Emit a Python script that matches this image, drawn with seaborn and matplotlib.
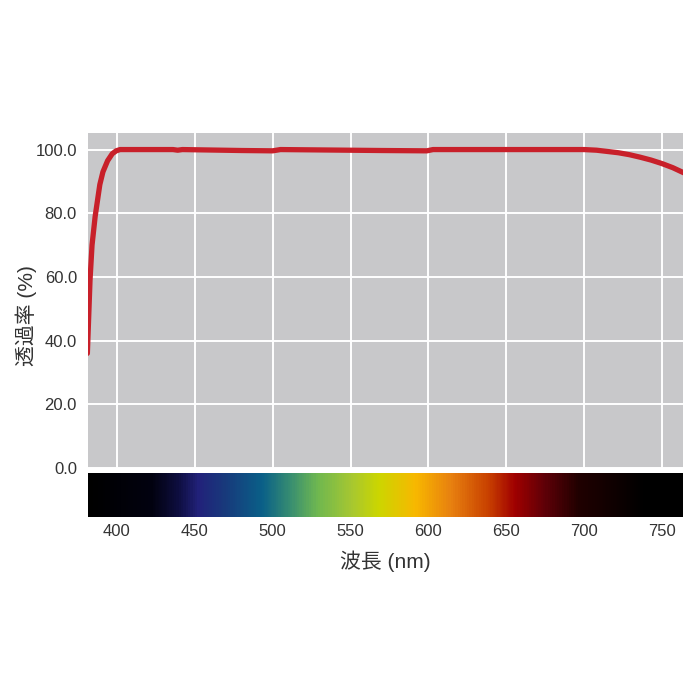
import numpy as np
import pandas as pd
import matplotlib
matplotlib.use("Agg")
import matplotlib.pyplot as plt
import seaborn as sns
from matplotlib.colors import LinearSegmentedColormap

# 透過率カーブ (読み取り値)
wavelength = [381, 382.7, 384, 386, 389, 391, 394, 397, 399.5, 402, 436, 439, 442,
              480, 500, 505, 570, 599, 603, 700, 708, 715, 722, 729, 736, 743,
              750, 757, 764]
transmittance = [36, 59, 70, 79, 89, 93, 96.5, 98.7, 99.6, 100, 100, 99.8, 100,
                 99.7, 99.6, 100, 99.7, 99.6, 100, 100, 99.8, 99.4, 99.0, 98.4,
                 97.6, 96.7, 95.6, 94.3, 92.7]

# スペクトル帯の色
spec_nm = [381, 422, 439, 452, 469, 493, 512, 529, 551, 568, 592, 615, 639,
           656, 675, 697, 718, 740, 764]
spec_colors = ["#000000", "#020210", "#0e0e40", "#22227a", "#183a7c", "#0a6088",
               "#3a9070", "#70b850", "#a8c830", "#ccd600", "#f8b800", "#e88010",
               "#c84000", "#a00000", "#600008", "#200000", "#100000", "#000000",
               "#000000"]

x_ticks = [400, 450, 500, 550, 600, 650, 700, 750]
y_ticks = [0, 20, 40, 60, 80, 100]

sns.set_theme(style="darkgrid", rc={
    "axes.facecolor": "#c8c8ca",
    "grid.color": "white",
    "grid.linewidth": 1.4,
})
# 数字は Helvetica 風、和文は Noto にフォールバック
plt.rcParams['font.family'] = ['Liberation Sans', 'Noto Sans CJK JP', 'DejaVu Sans']

df = pd.DataFrame({"wl": wavelength, "t": transmittance})

fig = plt.figure(figsize=(7, 7), dpi=100)
ax = fig.add_axes([0.1257, 0.3314, 0.85, 0.4786])
cax = fig.add_axes([0.1257, 0.2614, 0.85, 0.0629])

sns.lineplot(data=df, x="wl", y="t", ax=ax, color="#c8202a", linewidth=3.8)
xmin, xmax = 381.4, 763.5
ax.set_xlim(xmin, xmax)
ax.set_ylim(0, 105.2)
ax.set_xticks(x_ticks)
ax.set_yticks(y_ticks)
ax.set_xticklabels([])
ax.set_yticklabels([f"{v:.1f}" for v in y_ticks], fontsize=12, color="#333333")
ax.tick_params(axis="both", length=0, pad=8)
ax.set_xlabel("")
ax.set_ylabel("透過率 (%)", fontsize=15, color="#333333")
ax.yaxis.set_label_coords(-0.086, 0.455)
for s in ax.spines.values():
    s.set_visible(False)

# スペクトル帯
pos = [(v - xmin) / (xmax - xmin) for v in spec_nm]
pos = [min(max(p, 0), 1) for p in pos]
pos[0], pos[-1] = 0.0, 1.0
cmap = LinearSegmentedColormap.from_list("spec", list(zip(pos, spec_colors)))
grad = np.linspace(0, 1, 600).reshape(1, -1)
cax.imshow(grad, aspect="auto", cmap=cmap, extent=[xmin, xmax, 0, 1])
cax.set_xlim(xmin, xmax)
cax.set_ylim(0, 1)
cax.grid(False)
cax.set_yticks([])
cax.set_xticks(x_ticks)
cax.set_xticklabels([str(v) for v in x_ticks], fontsize=12, color="#333333")
cax.tick_params(axis="x", length=0, pad=5)
cax.set_xlabel("波長 (nm)", fontsize=15, color="#333333", labelpad=8)
for s in cax.spines.values():
    s.set_visible(False)

fig.savefig("out.png", dpi=100, facecolor="white")
